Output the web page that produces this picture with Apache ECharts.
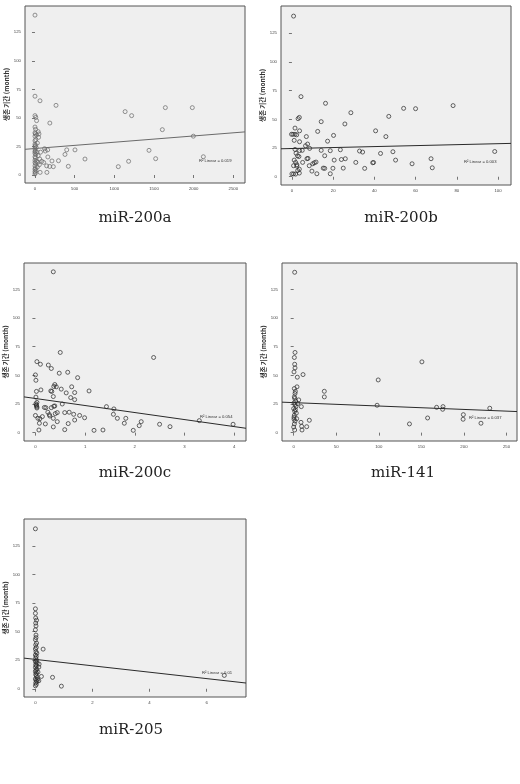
<!DOCTYPE html>
<html>
<head>
<meta charset="utf-8">
<script src="https://cdn.jsdelivr.net/npm/echarts@6/dist/echarts.min.js"></script>
<style>
  html, body { margin: 0; padding: 0; background: #fff; }
  #chart { width: 520px; height: 784px; }
</style>
</head>
<body>
<div id="chart"></div>
<script>
// panel names
var titles = ['miR-200a', 'miR-200b', 'miR-200c', 'miR-141', 'miR-205']
var yName = '생존 기간 (month)'
var yTicks = [0, 25, 50, 75, 100, 125]

// x tick labels per panel
var xTicks200a = [0, 500, 1000, 1500, 2000, 2500]
var xTicks200b = [0, 20, 40, 60, 80, 100]
var xTicks200c = [0, 1, 2, 3, 4]
var xTicks141 = [0, 50, 100, 150, 200, 250]
var xTicks205 = [0, 2, 4, 6]

// linear fit: [intercept, slope] and R² text
var fit200a = [23.2, 0.0055]
var fit200b = [24.6, 0.042]
var fit200c = [29.8, -6.13]
var fit141 = [26.2, -0.0297]
var fit205 = [25.7, -2.8]
var r2Text = ['R² Linear = 0.019', 'R² Linear = 0.003', 'R² Linear = 0.054', 'R² Linear = 0.037', 'R² Linear = 0.01']

// [expression, survival month]
var pts200a = [
  [0, 140], [0, 69], [63, 65], [265, 61], [0, 52], [10, 50.5], [20, 47.6], [187, 45.5],
  [1136, 55.5], [1218, 52], [1643, 59], [1983, 59], [1605, 39.7], [1996, 34],
  [120, 23], [130, 21], [160, 22], [400, 22], [504, 22], [378, 18], [630, 14], [296, 12.5],
  [214, 12.3], [162, 15.8], [109, 11], [147, 8], [185, 7.5], [231, 7.3], [420, 7.6],
  [65, 2.3], [150, 2.3], [1050, 7.3], [1180, 12], [1437, 21.6], [1521, 14.3], [2122, 16],
  [0, 42], [8, 40], [40, 38], [50, 36], [0, 37], [4, 36], [20, 35], [0, 34], [45, 33],
  [10, 31], [0, 30], [30, 28], [0, 27], [6, 26], [15, 24], [0, 23], [3, 21], [25, 20],
  [0, 19], [10, 18], [40, 17], [0, 16], [5, 15], [60, 14], [0, 13], [20, 12], [0, 11],
  [8, 10], [55, 9], [0, 8], [30, 7], [3, 6], [0, 5], [12, 4], [0, 3], [5, 2], [0, 1],
  [70, 20], [85, 12], [35, 11], [0, 20.5], [0, 25]
]
var pts200b = [
  [0.8, 140], [4.4, 69.8], [16.3, 64], [28.6, 55.8], [3.6, 51.7], [3, 50.6], [14.2, 48],
  [25.7, 46], [47, 52.6], [54.2, 59.6], [60, 59.3], [78.2, 62], [1.5, 42.4], [3.7, 40],
  [12.5, 39.5], [40.6, 40], [20.2, 36], [7, 35], [45.6, 35], [0.5, 37], [1.5, 37], [2.3, 36.5],
  [-0.2, 37], [3.7, 30.5], [17.3, 31], [1.1, 31.7], [7.6, 28.5], [6.6, 27], [8.6, 24.7],
  [1.5, 23.8], [5, 23], [3.7, 22.8], [14.2, 23], [18.6, 22.7], [23.5, 23.5], [32.8, 22.4],
  [34.3, 21.5], [49, 21.8], [43, 20.3], [15.9, 18.3], [2.7, 18.2], [3.4, 17.6], [7.8, 16],
  [7.3, 15.7], [24, 15], [25.9, 15.7], [20.5, 14.5], [1.1, 14.5], [1.8, 12.5], [5.2, 12.5],
  [11.7, 12.8], [10.9, 12.2], [10.1, 11.3], [31, 12.5], [39.2, 12.2], [39.6, 12.4],
  [50.3, 14.5], [58.3, 11.3], [67.5, 15.7], [68.1, 7.8], [98.4, 22], [0.8, 9.6], [2.4, 9.3],
  [8.4, 9.6], [9.7, 4.9], [3.6, 6.6], [2.8, 5.4], [15.2, 7.5], [15.9, 7.3], [19.9, 7.4],
  [24.9, 7.5], [35.3, 7.3], [0, 2.5], [0.8, 2.5], [1.8, 2.3], [3.6, 3.2], [12.1, 2.6],
  [18.6, 2.6], [2, 20.5], [2.4, 10.5]
]
var pts200c = [
  [0.36, 140.4], [0.5, 70], [2.38, 65.6], [0.03, 62], [0.1, 59.7], [0.26, 59], [0.32, 56],
  [0, 50.4], [0.01, 45.7], [0.48, 51.9], [0.65, 52.7], [0.85, 48], [0.02, 36], [0.01, 31],
  [0.11, 37.3], [0.39, 42], [0.42, 40], [0.37, 40.3], [0.52, 38], [0.73, 40], [0.33, 36],
  [0.31, 36.4], [0.36, 31.5], [0.62, 34.7], [0.79, 35], [1.08, 36.4], [0.71, 30.6],
  [0.79, 28.8], [0.54, 25], [0.02, 23.5], [0.03, 22.4], [0.03, 21.5], [0.18, 22], [0.21, 21.8],
  [0.37, 23], [0.39, 23.3], [0.32, 21.8], [1.43, 22.7], [1.58, 20.7], [0, 15], [0.05, 12.5],
  [0.09, 12.2], [0.25, 17.8], [0.28, 15.7], [0.29, 14.5], [0.4, 16.6], [0.44, 17.5],
  [0.59, 17.5], [0.68, 17.8], [0.77, 16], [0.89, 15], [0.99, 13], [0.36, 12.5], [0.44, 9.6],
  [0.79, 11], [1.57, 16], [1.65, 12.5], [1.82, 12.5], [1.79, 8.2], [2.13, 9.6], [2.09, 6.1],
  [2.5, 7.3], [2.71, 5.2], [3.3, 10.5], [3.98, 7.3], [0.08, 8.2], [0.07, 2.3], [0.2, 7.6],
  [0.36, 5], [0.59, 2.6], [0.66, 7.9], [1.18, 2], [1.36, 2.3], [1.97, 2], [0.01, 25.2],
  [0.02, 24.2], [0.03, 26.4], [0.14, 14]
]
var pts141 = [
  [1.2, 140], [1.6, 70], [0.8, 65.6], [1.2, 59.7], [1.6, 56.5], [0.4, 53], [4.3, 48.4],
  [11, 50.7], [99.3, 46], [150.6, 61.8], [36, 36.1], [36, 31.2], [98, 23.9], [167.9, 22.1],
  [175.4, 22.7], [175, 20.4], [230.3, 21.3], [199.3, 15.7], [199, 11.7], [220, 8.2],
  [157.3, 12.8], [136, 7.6], [18.4, 10.8], [15.3, 5.2], [9.8, 2.3], [8.6, 9], [9, 22.7],
  [5.9, 28.6], [3.9, 40], [2, 36], [1.6, 34.2], [0.8, 31.3], [1.2, 29.9], [0.4, 26],
  [1.6, 24.5], [2.7, 22.8], [0, 21], [1.2, 18.7], [3.1, 17], [0.8, 15.2], [0.4, 11.8],
  [1.6, 10.1], [0.8, 7.6], [0, 4.9], [1.2, 2.3], [9.4, 5.5], [0.8, 38.5], [2.4, 27.6],
  [4.7, 25.4], [0.4, 13.5], [2, 20], [3.5, 12.2]
]
var pts205 = [
  [0, 140], [0, 70], [0, 66], [0.01, 62], [0.04, 60], [0.02, 55], [0, 51.6], [0.02, 47],
  [0, 43], [0.04, 40], [0.27, 34.7], [0.13, 21.6], [0.12, 19], [0.21, 10.8], [0.6, 10],
  [0.12, 7], [0.91, 2.3], [6.62, 11.7], [0.01, 38.4], [0.03, 36.2], [0, 34.8], [0.02, 32.5],
  [0.05, 31.1], [0, 29.6], [0.03, 28.3], [0.01, 26.8], [0.04, 25.2], [0, 24.1], [0.02, 23.4],
  [0.06, 22.6], [0.01, 21.2], [0.03, 20.1], [0, 18.7], [0.05, 17.3], [0.02, 16.2],
  [0, 15.1], [0.04, 13.8], [0.01, 12.6], [0.03, 11.4], [0.06, 9.9], [0, 8.7], [0.02, 7.5],
  [0.05, 6.3], [0.01, 5.1], [0.03, 3.8], [0, 2.6], [0.08, 8.2], [0.09, 14.6], [0.02, 44.8],
  [0.01, 57.5]
]

var chart = echarts.init(document.getElementById('chart'))

var panels = [
  { data: pts200a, fit: fit200a, xTicks: xTicks200a, grid: { left: 25, top: 6, width: 220, height: 177 }, x: [-126, 2647], y: [-7, 148], title: [135, 218], r2: [199, 161], ink: '#6a6a6a', nameGap: 15 },
  { data: pts200b, fit: fit200b, xTicks: xTicks200b, grid: { left: 281, top: 6, width: 230, height: 179 }, x: [-5.3, 106.3], y: [-7.2, 148.8], title: [401, 218], r2: [464, 162], ink: '#2a2a2a', nameGap: 12 },
  { data: pts200c, fit: fit200c, xTicks: xTicks200c, grid: { left: 24, top: 263, width: 222, height: 178 }, x: [-0.23, 4.24], y: [-7.3, 148.1], title: [135, 473], r2: [200, 417], ink: '#2a2a2a', nameGap: 11 },
  { data: pts141, fit: fit141, xTicks: xTicks141, grid: { left: 282, top: 263, width: 235, height: 178 }, x: [-13.7, 262.3], y: [-7.3, 148.1], title: [403, 473], r2: [469, 418], ink: '#2a2a2a', nameGap: 13 },
  { data: pts205, fit: fit205, xTicks: xTicks205, grid: { left: 24, top: 519, width: 222, height: 178 }, x: [-0.4, 7.38], y: [-7.2, 148.6], title: [131, 730], r2: [202, 673], ink: '#2a2a2a', nameGap: 11 }
]

function plain(v) {
  return String(Math.round(v * 100) / 100)
}

var grids = []
var xAxes = []
var yAxes = []
var series = []
var graphics = []

panels.forEach(function(p, i) {
  grids.push(Object.assign({
    show: true,
    backgroundColor: '#efefef',
    borderColor: '#555',
    borderWidth: 1
  }, p.grid))
  xAxes.push({
    gridIndex: i,
    type: 'value',
    min: p.x[0],
    max: p.x[1],
    axisLine: { show: false },
    axisTick: { show: true, inside: false, length: 3, customValues: p.xTicks, lineStyle: { color: '#555', width: 0.8 }},
    axisLabel: { show: true, customValues: p.xTicks, formatter: plain, fontSize: 4.3, margin: 4, color: '#444', fontFamily: 'Arial' },
    splitLine: { show: false }
  })
  yAxes.push({
    gridIndex: i,
    type: 'value',
    min: p.y[0],
    max: p.y[1],
    name: yName,
    nameLocation: 'middle',
    nameRotate: 90,
    nameGap: p.nameGap,
    nameTextStyle: { fontSize: 6.5, fontWeight: 'bold', color: '#333', fontFamily: 'Noto Sans CJK KR' },
    axisLine: { show: false },
    axisTick: { show: true, inside: false, length: 3, customValues: yTicks, lineStyle: { color: '#555', width: 0.8 }},
    axisLabel: { show: true, customValues: yTicks, formatter: plain, fontSize: 4.3, margin: 4, color: '#444', fontFamily: 'Arial' },
    splitLine: { show: false }
  })
  series.push({
    type: 'scatter',
    xAxisIndex: i,
    yAxisIndex: i,
    symbol: 'circle',
    symbolSize: 4,
    itemStyle: { color: 'rgba(0,0,0,0)', borderColor: p.ink, borderWidth: 0.9 },
    data: p.data
  })
  // fitted line across the whole x range
  series.push({
    type: 'line',
    xAxisIndex: i,
    yAxisIndex: i,
    showSymbol: false,
    silent: true,
    lineStyle: { color: p.ink, width: 1 },
    data: [
      [p.x[0], p.fit[0] + p.fit[1] * p.x[0]],
      [p.x[1], p.fit[0] + p.fit[1] * p.x[1]]
    ]
  })
  graphics.push({
    type: 'text',
    x: p.title[0],
    y: p.title[1],
    style: {
      text: titles[i],
      fontSize: 15,
      fontFamily: 'DejaVu Serif',
      fill: '#222',
      textAlign: 'center',
      textVerticalAlign: 'middle'
    }
  })
  graphics.push({
    type: 'text',
    x: p.r2[0],
    y: p.r2[1],
    style: {
      text: r2Text[i],
      fontSize: 4.2,
      fontFamily: 'Arial',
      fill: '#333',
      textAlign: 'left',
      textVerticalAlign: 'middle'
    }
  })
})

chart.setOption({
  animation: false,
  backgroundColor: '#fff',
  grid: grids,
  xAxis: xAxes,
  yAxis: yAxes,
  series: series,
  graphic: graphics
})
</script>
</body>
</html>
